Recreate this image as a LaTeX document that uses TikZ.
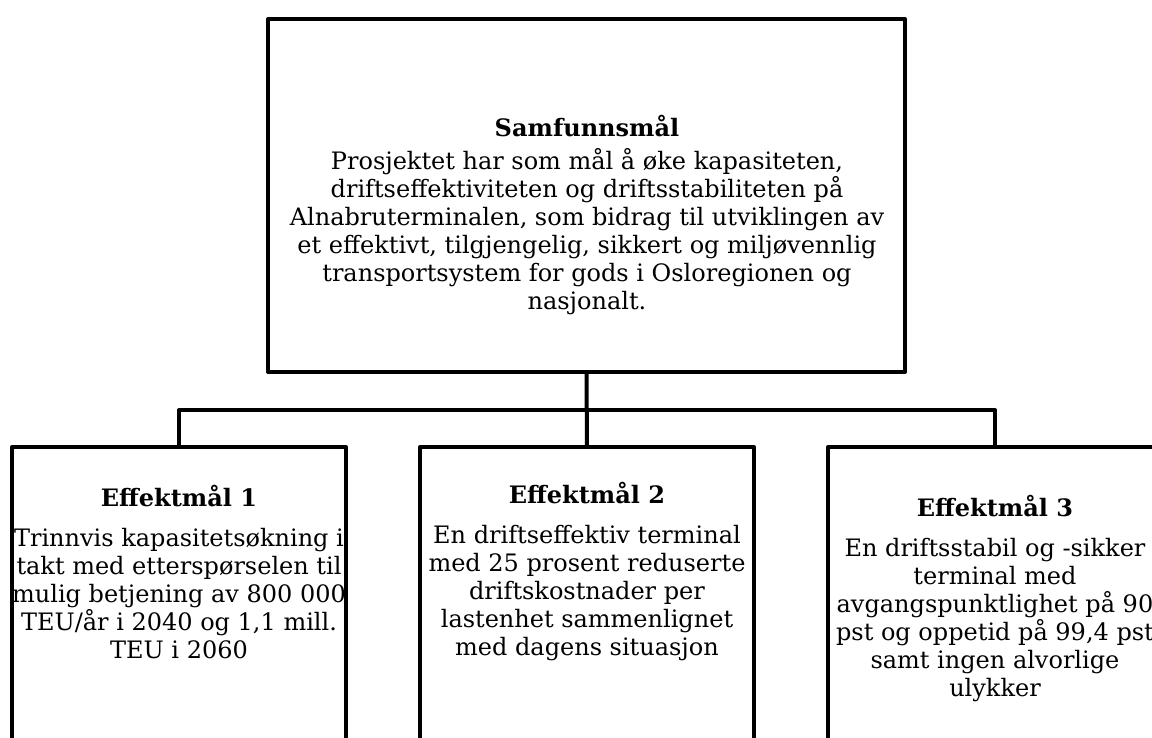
\documentclass[tikz,border=0pt]{standalone}
\usepackage{fontspec}
\setmainfont{DejaVu Serif}
\newcommand{\goalfont}{\fontsize{24}{28}\selectfont}
\begin{document}
\begin{tikzpicture}[x=1pt,y=-1pt,
		every node/.style={inner sep=0pt,outer sep=0pt},
		goalbox/.style={draw,line width=4pt,line join=round,anchor=north,minimum width=334pt,minimum height=320pt},
		goaltext/.style={align=center,anchor=north,font=\goalfont},
		link/.style={line width=4pt,line join=round}]
		
		\useasboundingbox (0,0) rectangle (1152,737);
		\clip (0,0) rectangle (1152,737);
		
		\node[goalbox,minimum width=637pt,minimum height=353pt](top) at (586.5,19) {};
		\node[goalbox](e1) at (179,447) {};
		\node[goalbox](e2) at (587,447) {};
		\node[goalbox](e3) at (995,447) {};
		\coordinate (bus) at (587,410);
		
		\node[goaltext](toptext) at (587,115) {\textbf{Samfunnsmål}\\[5pt]
			Prosjektet har som mål å øke kapasiteten,\\
			driftseffektiviteten og driftsstabiliteten på\\
			Alnabruterminalen, som bidrag til utviklingen av\\
			et effektivt, tilgjengelig, sikkert og miljøvennlig\\
			transportsystem for gods i Osloregionen og\\
			nasjonalt.};
		\node[goaltext](e1text) at (179,485) {\textbf{Effektmål 1}\\[12pt]
			Trinnvis kapasitetsøkning i\\
			takt med etterspørselen til\\
			mulig betjening av 800 000\\
			TEU/år i 2040 og 1,1 mill.\\
			TEU i 2060};
		\node[goaltext](e2text) at (587,482) {\textbf{Effektmål 2}\\[12pt]
			En driftseffektiv terminal\\
			med 25 prosent reduserte\\
			driftskostnader per\\
			lastenhet sammenlignet\\
			med dagens situasjon};
		\node[goaltext](e3text) at (995,495) {\textbf{Effektmål 3}\\[12pt]
			En driftsstabil og -sikker\\
			terminal med\\
			avgangspunktlighet på 90\\
			pst og oppetid på 99,4 pst\\
			samt ingen alvorlige\\
			ulykker};
		
		\draw[link] (top.south) -- (e2.north);
		\draw[link] (e1.north) |- (bus) -| (e3.north);
\end{tikzpicture}
\end{document}
